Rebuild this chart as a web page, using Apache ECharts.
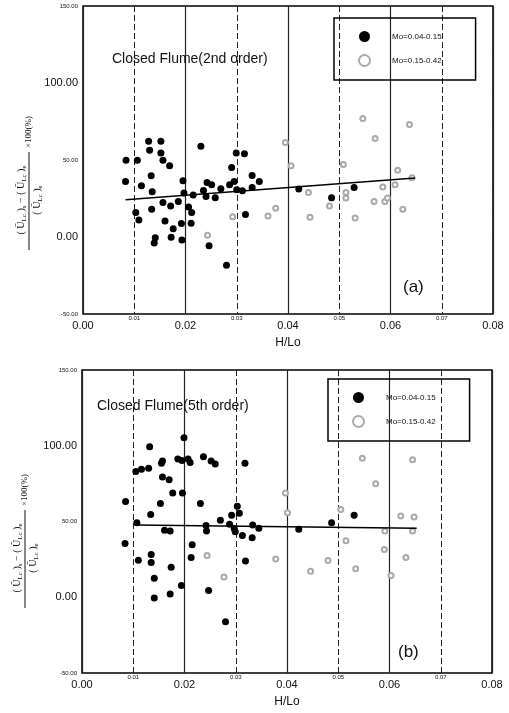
<!DOCTYPE html>
<html><head><meta charset="utf-8">
<script src="https://cdn.jsdelivr.net/npm/echarts@6/dist/echarts.min.js"></script>
<style>html,body{margin:0;padding:0;background:#fff}#c{width:509px;height:713px}</style>
</head><body><div id="c"></div>
<script>
// ---- data ----
const legendNames = ['Mo=0.04-0.15', 'Mo=0.15-0.42'];
const chartTitles = ['Closed Flume(2nd order)', 'Closed Flume(5th order)'];
const panelLabels = ['(a)', '(b)'];
const xAxisName = 'H/Lo';

const filledA = [
  [0.0128,62.2],[0.0152,62.2],[0.0130,56.3],[0.0152,54.6],[0.0156,49.8],[0.0169,46.3],
  [0.0084,49.8],[0.0106,49.8],[0.0230,58.9],[0.0299,54.6],[0.0315,54.0],[0.0290,45.2],
  [0.0083,36.1],[0.0133,39.8],[0.0114,33.3],[0.0135,29.4],[0.0195,36.6],[0.0197,28.5],
  [0.0215,27.2],[0.0235,30.2],[0.0242,35.4],[0.0251,33.9],[0.0240,26.3],[0.0258,25.5],
  [0.0269,31.3],[0.0286,33.9],[0.0295,36.1],[0.0300,30.7],[0.0311,30.0],[0.0330,40.0],
  [0.0330,32.2],[0.0344,36.1],[0.0156,22.4],[0.0171,20.2],[0.0186,23.0],[0.0103,15.9],
  [0.0109,11.1],[0.0134,18.1],[0.0160,10.4],[0.0176,5.4],[0.0192,8.7],[0.0211,8.9],
  [0.0206,19.4],[0.0212,15.9],[0.0141,-0.5],[0.0139,-3.9],[0.0172,-0.2],[0.0193,-2.0],
  [0.0246,-5.7],[0.0280,-18.3],[0.0317,14.6],[0.0421,31.1],[0.0485,25.5],[0.0529,32.2]
];
const openA = [
  [0.0546,77.0],[0.0637,73.1],[0.0570,64.0],[0.0508,47.0],[0.0406,46.3],[0.0395,61.4],
  [0.0614,43.3],[0.0642,38.5],[0.0585,32.4],[0.0609,33.9],[0.0440,28.9],[0.0513,28.9],
  [0.0513,25.3],[0.0481,20.2],[0.0568,23.0],[0.0589,23.0],[0.0376,18.7],[0.0361,13.7],
  [0.0443,12.9],[0.0531,12.4],[0.0624,18.1],[0.0594,25.3],[0.0292,13.2],[0.0243,1.1]
];
const trendA = [[0.0083,24.2],[0.0648,38.3]];

const filledB = [
  [0.0199,105.2],[0.0132,99.3],[0.0105,83.0],[0.0116,84.5],[0.0130,85.2],[0.0155,88.4],
  [0.0157,90.0],[0.0187,91.3],[0.0195,90.2],[0.0207,91.3],[0.0211,88.9],[0.0237,92.8],
  [0.0252,90.0],[0.0260,88.0],[0.0318,88.4],[0.0157,79.3],[0.0170,77.6],[0.0177,68.8],
  [0.0196,68.8],[0.0085,63.2],[0.0153,61.9],[0.0231,61.9],[0.0303,60.1],[0.0134,54.7],
  [0.0292,54.1],[0.0307,55.4],[0.0531,54.1],[0.0270,50.8],[0.0107,49.2],[0.0288,48.2],
  [0.0242,47.3],[0.0161,44.2],[0.0172,43.8],[0.0243,43.8],[0.0297,45.3],[0.0299,43.3],
  [0.0333,47.7],[0.0345,45.6],[0.0313,40.7],[0.0332,39.2],[0.0084,35.5],[0.0215,34.6],
  [0.0135,28.3],[0.0135,22.9],[0.0110,24.4],[0.0213,26.3],[0.0319,24.0],[0.0174,19.8],
  [0.0141,12.6],[0.0194,7.8],[0.0172,2.2],[0.0141,-0.5],[0.0247,4.4],[0.0280,-16.1],
  [0.0423,44.9],[0.0487,49.2]
];
const openB = [
  [0.0505,58.0],[0.0622,53.6],[0.0648,52.9],[0.0591,43.8],[0.0645,43.8],[0.0515,37.3],
  [0.0590,31.6],[0.0632,26.3],[0.0480,24.2],[0.0378,25.3],[0.0534,18.8],[0.0446,17.2],
  [0.0547,91.7],[0.0645,90.7],[0.0573,75.0],[0.0397,68.8],[0.0401,55.8],[0.0603,14.4],
  [0.0244,27.5],[0.0277,13.3]
];
const trendB = [[0.0104,47.7],[0.0653,45.5]];

// ---- chart ----
const FONT = 'Liberation Sans';
const chart = echarts.init(document.getElementById('c'), null, {renderer: 'canvas'});

function xAxes(g) {
  return [
    {gridIndex: g, type: 'value', min: 0, max: 0.08, interval: 0.02,
     axisLine: {show: false}, axisTick: {show: false},
     splitLine: {show: true, lineStyle: {color: '#222', width: 1.2}},
     axisLabel: {fontSize: 11, color: '#111', margin: 6, fontFamily: FONT,
                 formatter: v => v.toFixed(2)},
     name: xAxisName, nameLocation: 'middle', nameGap: 23,
     nameTextStyle: {fontSize: 12, color: '#111', fontFamily: FONT}},
    {gridIndex: g, type: 'value', min: 0, max: 0.08, interval: 0.01, position: 'bottom',
     axisLine: {show: false}, axisTick: {show: false},
     splitLine: {show: true, lineStyle: {color: '#222', width: 1, type: [6, 3]}},
     axisLabel: {fontSize: 6, color: '#111', margin: 1, fontFamily: FONT,
                 formatter: v => (Math.round(v * 100) % 2 ? v.toFixed(2) : '')}}
  ];
}
function yAxis(g) {
  return {gridIndex: g, type: 'value', min: -50, max: 150, interval: 50,
    axisLine: {show: false}, axisTick: {show: false}, splitLine: {show: false},
    axisLabel: {margin: 5, color: '#111', fontFamily: FONT,
      formatter: v => (v === 100 || v === 0) ? '{b|' + v.toFixed(2) + '}' : '{s|' + v.toFixed(2) + '}',
      rich: {b: {fontSize: 11, fontFamily: FONT}, s: {fontSize: 6, fontFamily: FONT}}}};
}
function legend(left, top) {
  return {left: left, top: top, orient: 'vertical',
    data: [{name: legendNames[0], icon: 'circle'}, {name: legendNames[1], icon: 'emptyCircle'}],
    itemWidth: 11, itemHeight: 11, itemGap: 12,
    padding: [13, 34, 13, 24], borderColor: '#000', borderWidth: 1.5,
    selectedMode: false,
    textStyle: {fontSize: 8, color: '#111', fontFamily: FONT, padding: [0, 0, 0, 17]}};
}
const rich = {n: {fontSize: 10, fontFamily: 'Liberation Serif', fill: '#111'},
              s: {fontSize: 7, fontFamily: 'Liberation Serif', fill: '#111', padding: [6, 0, 0, 0]}};
function yFormula(cx, cy) {
  return {type: 'group', x: cx, y: cy, rotation: Math.PI / 2, children: [
    {type: 'text', x: 0, y: -1, style: {text: '{n|( Ū}{s|Lc}{n| )}{s|s}{n| − ( Ū}{s|Lc}{n| )}{s|e}',
      rich: rich, align: 'center', verticalAlign: 'bottom'}},
    {type: 'line', shape: {x1: -50, y1: 0, x2: 48, y2: 0}, style: {stroke: '#111', lineWidth: 1}},
    {type: 'text', x: 0, y: 2, style: {text: '{n|( Ū}{s|Lc}{n| )}{s|e}', rich: rich,
      align: 'center', verticalAlign: 'top'}},
    {type: 'text', x: 52, y: 0, style: {text: '×100(%)', fontSize: 9, fontFamily: 'Liberation Serif',
      fill: '#111', align: 'left', verticalAlign: 'middle'}}
  ]};
}
function scatterSeries(xi, yi, filled, open, trend) {
  return [
    {type: 'scatter', name: legendNames[0], xAxisIndex: xi, yAxisIndex: yi, data: filled,
     symbol: 'circle', symbolSize: 7, itemStyle: {color: '#000', opacity: 1}},
    {type: 'scatter', name: legendNames[1], xAxisIndex: xi, yAxisIndex: yi, data: open,
     symbol: 'emptyCircle', symbolSize: 5,
     itemStyle: {color: '#aaa', borderColor: '#aaa', borderWidth: 1, opacity: 1}},
    {type: 'line', name: 'trend', xAxisIndex: xi, yAxisIndex: yi, data: trend, showSymbol: false,
     silent: true, lineStyle: {color: '#000', width: 1.5}}
  ];
}

chart.setOption({
  animation: false,
  backgroundColor: '#fff',
  title: [
    {text: chartTitles[0], left: 112, top: 52, padding: 0,
     textStyle: {fontSize: 14, fontWeight: 'normal', color: '#111', fontFamily: FONT}},
    {text: chartTitles[1], left: 97, top: 399, padding: 0,
     textStyle: {fontSize: 14, fontWeight: 'normal', color: '#111', fontFamily: FONT}},
    {text: panelLabels[0], left: 403, top: 279, padding: 0,
     textStyle: {fontSize: 17, fontWeight: 'normal', color: '#111', fontFamily: FONT}},
    {text: panelLabels[1], left: 398, top: 644, padding: 0,
     textStyle: {fontSize: 17, fontWeight: 'normal', color: '#111', fontFamily: FONT}}
  ],
  legend: [legend(334, 18), legend(328, 379)],
  grid: [
    {left: 83, right: 16, top: 6, height: 308, show: true, borderColor: '#000', borderWidth: 1.5, containLabel: false},
    {left: 82, right: 17, top: 370, height: 303, show: true, borderColor: '#000', borderWidth: 1.5, containLabel: false}
  ],
  xAxis: [...xAxes(0), ...xAxes(1)],
  yAxis: [yAxis(0), yAxis(1)],
  graphic: [yFormula(29, 200), yFormula(25, 558)],
  series: [...scatterSeries(0, 0, filledA, openA, trendA), ...scatterSeries(2, 1, filledB, openB, trendB)]
});
</script></body></html>
